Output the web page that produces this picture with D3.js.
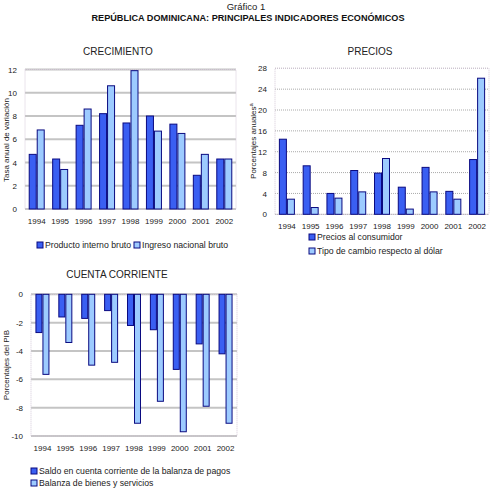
<!DOCTYPE html>
<html><head><meta charset="utf-8">
<script src="https://cdn.jsdelivr.net/npm/d3@7"></script>
<style>body{margin:0;background:#fff}svg{display:block;font-family:"Liberation Sans",Arial,sans-serif}</style>
</head><body><svg id="c" width="493" height="489"></svg>
<script>
const years = ["1994","1995","1996","1997","1998","1999","2000","2001","2002"];
const pib = [4.7,4.3,7.2,8.2,7.4,8.0,7.3,2.9,4.3];
const inb = [6.8,3.4,8.6,10.6,11.9,6.7,6.5,4.7,4.3];
const preciosConsumidor = [14.4,9.3,4.0,8.4,7.9,5.2,9.0,4.4,10.5];
const tipoCambio = [2.9,1.3,3.1,4.3,10.7,1.0,4.3,2.9,26.1];
const saldoCC = [-2.7,-1.6,-1.7,-1.15,-2.2,-2.5,-5.3,-3.5,-4.2];
const balanzaBS = [-5.65,-3.4,-5.0,-4.8,-9.1,-7.55,-9.7,-7.9,-9.1];
const ticksCrec = [0,2,4,6,8,10,12];
const ticksPrecios = [0,4,8,12,16,20,24,28];
const ticksCuenta = [0,-2,-4,-6,-8,-10];

const DARK="#3a5ff2", LIGHT="#9dcbff", STROKE="#0a0a80", TXT="#222";
const svg=d3.select("#c");

svg.append("text").attr("x",246).attr("y",10).attr("text-anchor","middle").attr("font-size",9.5).attr("fill",TXT).text("Gráfico 1");
svg.append("text").attr("x",248).attr("y",21).attr("text-anchor","middle").attr("font-size",9.5).attr("font-weight","bold").attr("fill","#111")
  .attr("textLength",313).attr("lengthAdjust","spacingAndGlyphs").text("REPÚBLICA DOMINICANA: PRINCIPALES INDICADORES ECONÓMICOS");

function chart(o){
  const g=svg.append("g");
  const x=d3.scaleBand().domain(years).range([o.x0,o.x1]).paddingInner(0).paddingOuter(0);
  const y=d3.scaleLinear().domain(o.domain).range([o.y1,o.y0]);
  g.selectAll(".grid").data(o.ticks).join("line")
    .attr("x1",o.x0).attr("x2",o.x1).attr("y1",d=>y(d)).attr("y2",d=>y(d))
    .attr("stroke",o.gridColor).attr("stroke-width",o.gridWidth).attr("stroke-dasharray",o.gridDash||null);
  g.append("rect").attr("x",o.x0).attr("y",o.y0).attr("width",o.x1-o.x0).attr("height",o.y1-o.y0)
    .attr("fill","none").attr("stroke","#d4c8d8").attr("stroke-width",1).attr("stroke-dasharray","1,1");
  const inner=d3.scaleBand().domain([0,1]).range([0,o.bw*2]);
  const off=(x.bandwidth()-o.bw*2)/2;
  const base=y(0);
  o.series.forEach((s,si)=>{
    g.selectAll(".b"+si).data(s.values).join("rect")
      .attr("x",(d,i)=>x(years[i])+off+inner(si)+0.5)
      .attr("y",d=>Math.min(y(d),base))
      .attr("width",o.bw-1)
      .attr("height",d=>Math.abs(y(d)-base))
      .attr("fill",s.color).attr("stroke",STROKE).attr("stroke-width",1);
  });
  const ya=g.append("g").attr("transform",`translate(${o.x0},0)`)
    .call(d3.axisLeft(y).tickValues(o.ticks).tickSize(0).tickPadding(o.tickPad||8).tickFormat(d=>String(d)));
  ya.select(".domain").remove();
  ya.selectAll("text").attr("font-size",8).attr("fill",TXT).attr("font-family","Liberation Sans, Arial, sans-serif");
  g.selectAll(".xl").data(years).join("text")
    .attr("x",d=>x(d)+x.bandwidth()/2).attr("y",o.xlabY).attr("text-anchor","middle")
    .attr("font-size",8).attr("fill",TXT).text(d=>d);
  const yt=g.append("text").attr("transform",`translate(${o.ytX},${o.ytY}) rotate(-90)`).attr("text-anchor","middle")
    .attr("font-size",8).attr("fill",TXT).text(o.ytitle);
  if(o.ysup) yt.append("tspan").attr("dy",-3).attr("font-size",6).text(o.ysup);
  svg.append("text").attr("x",o.titleX).attr("y",o.titleY).attr("text-anchor","middle").attr("font-size",10).attr("fill",TXT).text(o.title);
  o.legend.forEach(l=>{
    svg.append("rect").attr("x",l.x).attr("y",l.y-6).attr("width",6).attr("height",6).attr("fill",l.color).attr("stroke",STROKE).attr("stroke-width",1);
    svg.append("text").attr("x",l.x+8).attr("y",l.y).attr("font-size",8.7).attr("fill",TXT).text(l.text);
  });
}

chart({x0:25,x1:236,y0:69.5,y1:209,domain:[0,12],ticks:ticksCrec,bw:8,
  gridColor:"#c4c4c4",gridWidth:2,
  series:[{values:pib,color:DARK},{values:inb,color:LIGHT}],
  xlabY:224,ytitle:"Tasa anual de variación",ytX:9,ytY:140,
  title:"CRECIMIENTO",titleX:118,titleY:55,
  legend:[{x:37,y:248,color:DARK,text:"Producto interno bruto"},{x:134,y:248,color:LIGHT,text:"Ingreso nacional bruto"}]});

chart({x0:275,x1:489,y0:68.3,y1:214.3,domain:[0,28],ticks:ticksPrecios,bw:8,
  gridColor:"#aaa",gridWidth:1,gridDash:"1,1",
  series:[{values:preciosConsumidor,color:DARK},{values:tipoCambio,color:LIGHT}],
  xlabY:229,ytitle:"Porcentajes anuales",ysup:"a",ytX:256,ytY:141,
  title:"PRECIOS",titleX:370,titleY:55,
  legend:[{x:309,y:240,color:DARK,text:"Precios al consumidor"},{x:309,y:254,color:LIGHT,text:"Tipo de cambio respecto al dólar"}]});

chart({x0:31,x1:237,y0:294.3,y1:436,domain:[-10,0],ticks:ticksCuenta,bw:7,
  gridColor:"#c4c4c4",gridWidth:2,
  series:[{values:saldoCC,color:DARK},{values:balanzaBS,color:LIGHT}],
  xlabY:451,ytitle:"Porcentajes del PIB",ytX:9,ytY:365,
  title:"CUENTA CORRIENTE",titleX:117,titleY:278,
  legend:[{x:31,y:474,color:DARK,text:"Saldo en cuenta corriente de la balanza de pagos"},{x:31,y:486,color:LIGHT,text:"Balanza de bienes y servicios"}]});
</script></body></html>
